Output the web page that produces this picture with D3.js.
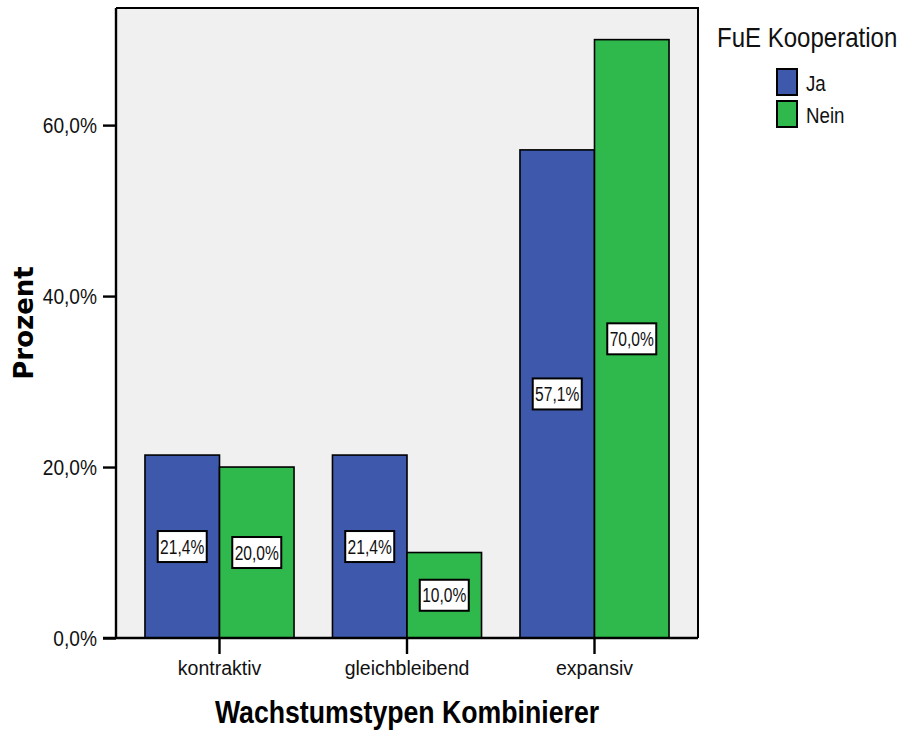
<!DOCTYPE html>
<html>
<head>
<meta charset="utf-8">
<script src="https://cdn.jsdelivr.net/npm/d3@7"></script>
<style>
  html, body { margin: 0; padding: 0; background: #fff; }
  svg { display: block; font-family: "Liberation Sans", Arial, sans-serif; }
</style>
</head>
<body>
<svg id="chart" width="910" height="732"></svg>
<script>
// Growth type categories and the share of firms per R&D cooperation group
const categories = ["kontraktiv", "gleichbleibend", "expansiv"];
const groups = ["Ja", "Nein"];
const valuesJa = [21.4, 21.4, 57.1];
const valuesNein = [20.0, 10.0, 70.0];
const yTicks = [0, 20, 40, 60];
const legendTitle = "FuE Kooperation";
const xTitle = "Wachstumstypen Kombinierer";
const yTitle = "Prozent";

const colors = { Ja: "#3e58ab", Nein: "#2fb84b" };

const de = d3.formatLocale({ decimal: ",", thousands: ".", grouping: [3], currency: ["", " €"] });
const pct = v => de.format(".1f")(v) + "%";

const svg = d3.select("#chart");
const plot = { left: 116, top: 8, right: 698, bottom: 638 };

const x = d3.scaleBand().domain(categories)
  .range([plot.left, plot.right]).paddingInner(0.205).paddingOuter(0.1545);
const xs = d3.scaleBand().domain(groups).range([0, x.bandwidth()]);
const y = d3.scaleLinear().domain([0, 73.7]).range([plot.bottom, plot.top]);

// condense glyphs horizontally to mimic the narrow export font
function condense(sel, factor) {
  sel.each(function () {
    const w = this.getComputedTextLength();
    d3.select(this).attr("textLength", w * factor).attr("lengthAdjust", "spacingAndGlyphs");
  });
}

// plot background
svg.append("rect")
  .attr("x", plot.left).attr("y", plot.top)
  .attr("width", plot.right - plot.left).attr("height", plot.bottom - plot.top)
  .attr("fill", "#f0f0f0");

const rows = categories.map((c, i) => ({ cat: c, vals: [
  { g: "Ja", v: valuesJa[i] }, { g: "Nein", v: valuesNein[i] }
]}));

// bars
const cat = svg.append("g").selectAll("g").data(rows).join("g")
  .attr("transform", d => `translate(${x(d.cat)},0)`);

cat.selectAll("rect").data(d => d.vals).join("rect")
  .attr("x", d => xs(d.g)).attr("y", d => y(d.v))
  .attr("width", xs.bandwidth()).attr("height", d => y(0) - y(d.v))
  .attr("fill", d => colors[d.g])
  .attr("stroke", "#000").attr("stroke-width", 1.6);

// value labels in white boxes at mid-height of each bar
const lab = cat.selectAll("g.lab").data(d => d.vals).join("g").attr("class", "lab")
  .attr("transform", d => `translate(${xs(d.g) + xs.bandwidth() / 2},${(y(d.v) + y(0)) / 2})`);
lab.append("rect")
  .attr("x", -24.5).attr("y", -15.5).attr("width", 49).attr("height", 31)
  .attr("fill", "#fff").attr("stroke", "#000").attr("stroke-width", 2);
const labText = lab.append("text")
  .attr("text-anchor", "middle").attr("dy", "0.36em")
  .attr("font-size", 19.5).attr("fill", "#111")
  .text(d => pct(d.v));
condense(labText, 0.8);

// frame: top and right borders
svg.append("path")
  .attr("d", `M${plot.left},${plot.top}H${plot.right}V${plot.bottom}`)
  .attr("fill", "none").attr("stroke", "#000").attr("stroke-width", 2);

// y axis
const yAxis = svg.append("g").attr("transform", `translate(${plot.left},0)`)
  .call(d3.axisLeft(y).tickValues(yTicks).tickFormat(pct).tickSize(13).tickPadding(6));
yAxis.select(".domain").attr("stroke", "#000").attr("stroke-width", 2.4)
  .attr("d", `M0,${plot.top}V${plot.bottom}`);
yAxis.selectAll(".tick line").attr("stroke", "#000").attr("stroke-width", 2.4);
const yTickText = yAxis.selectAll(".tick text")
  .attr("font-size", 22).attr("fill", "#111").attr("font-family", "Liberation Sans, Arial, sans-serif");
condense(yTickText, 0.87);

// x axis
const xAxis = svg.append("g").attr("transform", `translate(0,${plot.bottom})`)
  .call(d3.axisBottom(x).tickSize(16).tickPadding(7));
xAxis.select(".domain").attr("stroke", "#000").attr("stroke-width", 2.4)
  .attr("d", `M${plot.left - 13},0H${plot.right}`);
xAxis.selectAll(".tick line").attr("stroke", "#000").attr("stroke-width", 2.4);
xAxis.selectAll(".tick text")
  .attr("font-size", 19.5).attr("fill", "#111").attr("font-family", "Liberation Sans, Arial, sans-serif");

// axis titles
const xt = svg.append("text")
  .attr("x", (plot.left + plot.right) / 2).attr("y", 723)
  .attr("text-anchor", "middle").attr("font-size", 31).attr("font-weight", "bold")
  .attr("fill", "#000").text(xTitle);
condense(xt, 0.86);

svg.append("text")
  .attr("transform", "translate(33,323) rotate(-90)")
  .attr("text-anchor", "middle").attr("font-size", 26).attr("font-weight", "bold")
  .attr("font-family", "DejaVu Sans, Verdana, sans-serif")
  .attr("fill", "#000").text(yTitle);

// legend (title narrowed with a scale transform so its box stays compact)
svg.append("text")
  .attr("transform", "translate(717,47) scale(0.89,1)")
  .attr("font-size", 27).attr("fill", "#111").text(legendTitle);

const leg = svg.append("g").selectAll("g").data(groups).join("g")
  .attr("transform", (d, i) => `translate(777,${69 + i * 32})`);
leg.append("rect").attr("width", 20).attr("height", 26)
  .attr("fill", d => colors[d]).attr("stroke", "#000").attr("stroke-width", 2);
leg.append("text")
  .attr("transform", "translate(29,22) scale(0.85,1)")
  .attr("font-size", 22).attr("fill", "#111").text(d => d);
</script>
</body>
</html>
